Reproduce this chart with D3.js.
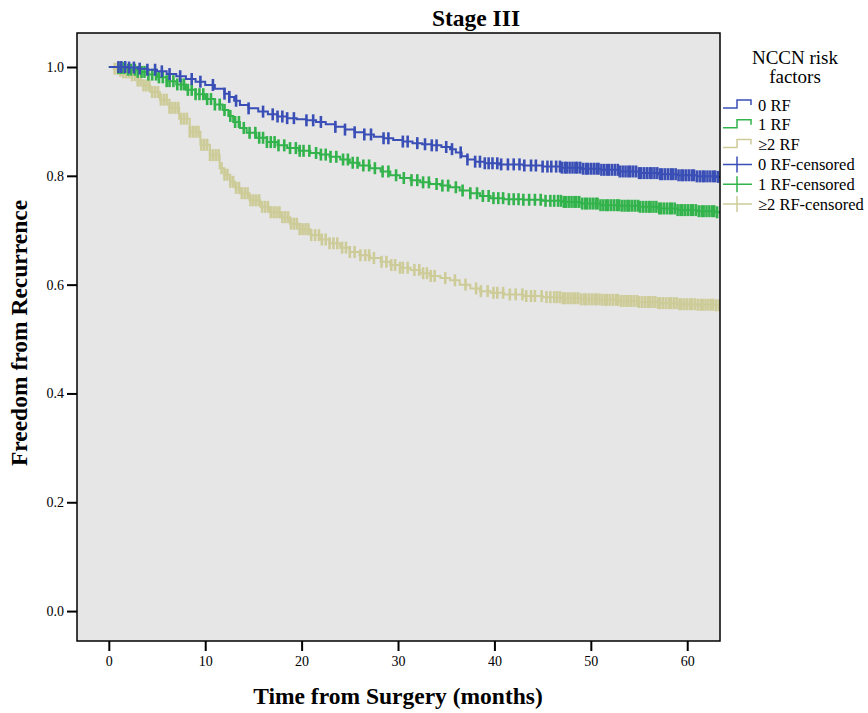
<!DOCTYPE html>
<html>
<head>
<meta charset="utf-8">
<script src="https://cdn.jsdelivr.net/npm/d3@7"></script>
<style>
  body { margin: 0; background: #fff; }
  text { font-family: "Liberation Serif", "Times New Roman", serif; }
</style>
</head>
<body>
<script>
// Kaplan-Meier estimates (time in months, survival)
const groups = ["0 RF", "1 RF", "\u22652 RF"];

const rf0Time = [0, 1, 2, 3, 4, 5, 6, 7, 8, 9, 10, 11, 12, 12.5, 13, 13.6, 14.5, 15.5, 16.5, 17.5, 18.5, 19.5, 20.5, 21.5, 22.5, 23.5, 24.5, 25.5, 26.5, 27.5, 28.5, 29.5, 30.5, 31.5, 32.5, 33.5, 34.5, 35.4, 36, 36.6, 37.2, 38, 39, 40.5, 43, 45, 47, 49, 51, 53, 55, 57, 59, 61, 63];
const rf0Surv = [1.000, 1.000, 0.999, 0.997, 0.995, 0.992, 0.987, 0.983, 0.978, 0.973, 0.967, 0.960, 0.951, 0.945, 0.938, 0.930, 0.924, 0.918, 0.913, 0.909, 0.906, 0.904, 0.902, 0.899, 0.895, 0.890, 0.885, 0.880, 0.876, 0.872, 0.869, 0.866, 0.863, 0.860, 0.858, 0.856, 0.853, 0.849, 0.843, 0.836, 0.830, 0.826, 0.823, 0.821, 0.819, 0.817, 0.815, 0.813, 0.811, 0.808, 0.805, 0.803, 0.801, 0.799, 0.798];

const rf1Time = [0, 0.5, 1, 2, 3, 4, 5, 6, 7, 8, 9, 10, 11, 11.8, 12.4, 12.9, 13.6, 14.3, 15.3, 16.4, 17.5, 18.5, 19.7, 20.9, 21.9, 22.9, 24, 25, 26, 27.1, 28.2, 29.2, 30.2, 31.3, 32.3, 33.3, 34.4, 35.4, 36.4, 37.5, 38.5, 39.6, 41, 43, 45, 47, 49, 51, 53, 55, 57, 59, 61, 63];
const rf1Surv = [1.000, 1.000, 0.998, 0.995, 0.991, 0.986, 0.981, 0.974, 0.968, 0.958, 0.950, 0.941, 0.931, 0.921, 0.910, 0.899, 0.888, 0.879, 0.870, 0.862, 0.856, 0.851, 0.846, 0.842, 0.839, 0.835, 0.830, 0.824, 0.819, 0.814, 0.808, 0.801, 0.796, 0.792, 0.788, 0.785, 0.782, 0.779, 0.773, 0.768, 0.763, 0.759, 0.757, 0.756, 0.754, 0.752, 0.749, 0.746, 0.745, 0.743, 0.740, 0.737, 0.735, 0.733];

const rf2Time = [0, 0.5, 1, 1.5, 2.2, 3, 3.6, 4.3, 5.3, 6.3, 7.3, 8.4, 9.5, 10.5, 11.5, 12, 12.6, 13.1, 13.6, 14.6, 15.7, 16.7, 17.8, 18.8, 19.8, 20.9, 21.9, 22.9, 24, 25, 26, 27.1, 28.2, 29.2, 30.2, 31.3, 32.3, 33.3, 34.4, 35.4, 36.4, 37.5, 38.5, 39.6, 41, 43, 45, 47, 49, 51, 53, 55, 57, 59, 61, 63];
const rf2Surv = [1.000, 0.997, 0.993, 0.990, 0.985, 0.975, 0.966, 0.954, 0.940, 0.925, 0.905, 0.881, 0.857, 0.838, 0.814, 0.802, 0.789, 0.778, 0.768, 0.755, 0.743, 0.733, 0.724, 0.712, 0.702, 0.691, 0.683, 0.676, 0.668, 0.660, 0.654, 0.649, 0.642, 0.636, 0.631, 0.627, 0.621, 0.616, 0.612, 0.608, 0.600, 0.593, 0.588, 0.585, 0.582, 0.579, 0.577, 0.575, 0.573, 0.572, 0.570, 0.568, 0.566, 0.564, 0.563, 0.562];

// censoring times (months)
const rf0Cens = [1.0, 1.3, 1.7, 2.1, 2.6, 3.2, 4.0, 4.8, 5.5, 6.3, 7.4, 8.6, 9.5, 10.8, 12.0, 12.5, 13.2, 14.5, 16.0, 17.0, 17.5, 18.0, 18.5, 19.2, 20.5, 21.2, 22.0, 23.5, 24.5, 25.5, 26.5, 27.2, 28.5, 29.0, 30.5, 31.0, 32.0, 32.8, 33.5, 34.0, 35.0, 35.6, 36.5, 37.2, 38.0, 38.5, 39.0, 39.4, 39.8,
  40.3, 40.7, 41.4, 42.0, 42.6, 43.1, 43.8, 44.3, 45.0, 45.5, 45.9, 46.4, 46.8,
  47.0, 47.3, 47.5, 47.8, 48.1, 48.4, 48.6, 48.9, 49.2, 49.5, 49.7, 50.0, 50.3, 50.6, 50.8, 51.1, 51.4, 51.7, 51.9, 52.2, 52.5, 52.8, 53.0, 53.3, 53.6, 53.9, 54.1, 54.4, 54.7, 55.0, 55.2, 55.5, 55.8, 56.1, 56.3, 56.6, 56.9, 57.2, 57.4, 57.7, 58.0, 58.3, 58.5, 58.8, 59.1, 59.4, 59.6, 59.9, 60.2, 60.5, 60.7, 61.0, 61.3, 61.6, 61.8, 62.1, 62.4, 62.7, 62.9, 63.2];
const rf1Cens = [1.0, 1.3, 1.6, 2.0, 2.3, 2.7, 3.0, 3.4, 3.7, 4.1, 4.5, 4.9, 5.2, 5.6, 6.0, 6.3, 6.7, 7.1, 7.5, 7.8, 8.2, 8.6, 9.0, 9.4, 9.8, 10.2, 10.6, 11.0, 11.5, 12.0, 12.6, 13.1, 13.5, 14.0, 14.6, 15.2, 15.6, 16.0, 16.4, 16.8, 17.2, 17.6, 18.2, 18.8, 19.4, 19.8, 20.2, 20.8, 21.5, 22.0, 22.5, 23.0, 23.6, 24.3, 24.8, 25.3, 25.8, 26.4, 27.0, 27.6, 28.4, 29.0, 29.8, 30.6, 31.4, 32.0, 32.6, 33.2, 34.0, 34.6, 35.2, 36.0, 36.7, 37.5, 38.2, 38.8, 39.4, 39.9,
  40.4, 40.9, 41.5, 42.0, 42.5, 43.0, 43.6, 44.2, 44.8, 45.3, 45.8, 46.2,
  46.6, 46.9, 47.2, 47.4, 47.7, 48.0, 48.3, 48.5, 48.8, 49.1, 49.4, 49.6, 49.9, 50.2, 50.5, 50.7, 51.0, 51.3, 51.6, 51.8, 52.1, 52.4, 52.7, 52.9, 53.2, 53.5, 53.8, 54.0, 54.3, 54.6, 54.9, 55.1, 55.4, 55.7, 56.0, 56.2, 56.5, 56.8, 57.1, 57.3, 57.6, 57.9, 58.2, 58.4, 58.7, 59.0, 59.3, 59.5, 59.8, 60.1, 60.4, 60.6, 60.9, 61.2, 61.5, 61.7, 62.0, 62.3, 62.6, 62.8, 63.1];
const rf2Cens = [0.6, 0.9, 1.2, 1.5, 1.8, 2.1, 2.4, 2.7, 3.0, 3.3, 3.6, 3.9, 4.2, 4.5, 4.8, 5.1, 5.4, 5.7, 6.0, 6.3, 6.6, 6.9, 7.2, 7.5, 7.8, 8.1, 8.4, 8.7, 9.0, 9.3, 9.6, 9.9, 10.2, 10.5, 10.8, 11.1, 11.4, 11.7, 12.0, 12.3, 12.6, 12.9, 13.2, 13.5, 13.8, 14.1, 14.4, 14.7, 15.0, 15.3, 15.6, 15.9, 16.2, 16.5, 16.8, 17.1, 17.4, 17.7, 18.0, 18.3, 18.6, 18.9, 19.2, 19.5, 19.8, 20.1, 20.4, 20.7, 21.0,
  21.4, 21.8, 22.1, 22.5, 22.9, 23.3, 23.7, 24.2, 24.6, 25.0, 25.5, 26.1, 26.6, 27.0, 27.5, 28.3, 28.8, 29.3, 29.7, 30.2, 30.5, 31.0, 31.7, 32.2, 32.6, 33.0, 33.4, 33.8, 34.9, 35.9, 37.0, 38.1, 38.6, 39.3, 39.9,
  40.3, 40.9, 41.6, 42.2, 42.9, 43.3, 43.8, 44.2, 44.9, 45.4, 45.8,
  46.2, 46.5, 46.8, 47.1, 47.3, 47.6, 47.9, 48.2, 48.4, 48.7, 49.0, 49.3, 49.5, 49.8, 50.1, 50.4, 50.6, 50.9, 51.2, 51.5, 51.7, 52.0, 52.3, 52.6, 52.8, 53.1, 53.4, 53.7, 53.9, 54.2, 54.5, 54.8, 55.0, 55.3, 55.6, 55.9, 56.1, 56.4, 56.7, 57.0, 57.2, 57.5, 57.8, 58.1, 58.3, 58.6, 58.9, 59.2, 59.4, 59.7, 60.0, 60.3, 60.5, 60.8, 61.1, 61.4, 61.6, 61.9, 62.2, 62.5, 62.7, 63.0, 63.3];

const xTicks = [0, 10, 20, 30, 40, 50, 60];
const yTicks = [0.0, 0.2, 0.4, 0.6, 0.8, 1.0];

const colors = ["#3a4fb6", "#33b34b", "#cdcc99"];
const series = [
  { name: groups[0], time: rf0Time, surv: rf0Surv, cens: rf0Cens, color: colors[0] },
  { name: groups[1], time: rf1Time, surv: rf1Surv, cens: rf1Cens, color: colors[1] },
  { name: groups[2], time: rf2Time, surv: rf2Surv, cens: rf2Cens, color: colors[2] }
];

const w = 868, h = 713;
const pLeft = 77, pRight = 720, pTop = 33, pBottom = 641;

const svg = d3.select("body").append("svg").attr("width", w).attr("height", h);

const x = d3.scaleLinear().domain([-3.3, 63.4]).range([pLeft, pRight]);
const y = d3.scaleLinear().domain([-0.055, 1.0625]).range([pBottom, pTop]);

svg.append("rect")
  .attr("x", pLeft).attr("y", pTop)
  .attr("width", pRight - pLeft).attr("height", pBottom - pTop)
  .attr("fill", "#e6e6e6");

svg.append("clipPath").attr("id", "plot")
  .append("rect")
    .attr("x", pLeft).attr("y", pTop)
    .attr("width", pRight - pLeft).attr("height", pBottom - pTop);

const plot = svg.append("g").attr("clip-path", "url(#plot)");

const line = d3.line()
  .x(d => x(d[0]))
  .y(d => y(d[1]))
  .curve(d3.curveStepAfter);

// survival value at a time (step function)
const survAt = function(s, t) {
  const i = d3.bisectRight(s.time, t) - 1;
  return s.surv[Math.max(0, i)];
};

// draw the lowest-risk group last so it sits on top, like the original
series.slice().reverse().forEach(s => {
  const pts = s.time.map((t, i) => [t, s.surv[i]]);
  pts.push([63.4, s.surv[s.surv.length - 1]]);
  plot.append("path")
    .attr("d", line(pts))
    .attr("fill", "none")
    .attr("stroke", s.color)
    .attr("stroke-width", 2);

  plot.append("g").selectAll("line")
    .data(s.cens)
    .enter()
    .append("line")
      .attr("x1", d => x(d)).attr("x2", d => x(d))
      .attr("y1", d => y(survAt(s, d)) - 6)
      .attr("y2", d => y(survAt(s, d)) + 6)
      .attr("stroke", s.color)
      .attr("stroke-width", 2.6);
});

svg.append("rect")
  .attr("x", pLeft).attr("y", pTop)
  .attr("width", pRight - pLeft).attr("height", pBottom - pTop)
  .attr("fill", "none")
  .attr("stroke", "#000")
  .attr("stroke-width", 1.5);

// axes
const xAxis = svg.append("g")
  .attr("transform", `translate(0,${pBottom})`)
  .call(d3.axisBottom(x).tickValues(xTicks).tickSize(10).tickPadding(5).tickFormat(d3.format("d")));
const yAxis = svg.append("g")
  .attr("transform", `translate(${pLeft},0)`)
  .call(d3.axisLeft(y).tickValues(yTicks).tickSize(10).tickPadding(3).tickFormat(d3.format(".1f")));

[xAxis, yAxis].forEach(a => {
  a.select(".domain").remove();
  a.selectAll(".tick line").attr("stroke", "#000").attr("stroke-width", 2);
  a.selectAll(".tick text")
    .attr("fill", "#000")
    .attr("font-family", "'Liberation Serif', serif")
    .attr("font-size", "14px");
});

svg.append("text")
  .attr("x", 476).attr("y", 26)
  .attr("text-anchor", "middle")
  .attr("font-size", "23.5px").attr("font-weight", "bold")
  .text("Stage III");

svg.append("text")
  .attr("x", 398).attr("y", 704)
  .attr("text-anchor", "middle")
  .attr("font-size", "23.5px").attr("font-weight", "bold")
  .text("Time from Surgery (months)");

svg.append("text")
  .attr("transform", "translate(27,333) rotate(-90)")
  .attr("text-anchor", "middle")
  .attr("font-size", "23.5px").attr("font-weight", "bold")
  .text("Freedom from Recurrence");

// legend
const legend = svg.append("g");
legend.append("text")
  .attr("x", 795).attr("y", 64)
  .attr("text-anchor", "middle").attr("font-size", "19px")
  .text("NCCN risk");
legend.append("text")
  .attr("x", 795).attr("y", 83)
  .attr("text-anchor", "middle").attr("font-size", "19px")
  .text("factors");

const legendRows = series.map(s => ({ label: s.name, color: s.color, type: "step" }))
  .concat(series.map(s => ({ label: s.name + "-censored", color: s.color, type: "cens" })));

const rows = legend.selectAll("g.row")
  .data(legendRows)
  .enter()
  .append("g")
    .classed("row", true)
    .attr("transform", (d, i) => `translate(723,${105 + i * 19.8})`);

rows.filter(d => d.type === "step").append("path")
  .attr("d", "M0,3 H14 V-5 H28 V0")
  .attr("fill", "none")
  .attr("stroke", d => d.color)
  .attr("stroke-width", 1.5);

rows.filter(d => d.type === "cens").append("path")
  .attr("d", "M0,0 H29 M14,-8 V8")
  .attr("fill", "none")
  .attr("stroke", d => d.color)
  .attr("stroke-width", 1.5);

rows.append("text")
  .attr("x", 35).attr("y", 5.5)
  .attr("font-size", "16.5px")
  .text(d => d.label);
</script>
</body>
</html>
